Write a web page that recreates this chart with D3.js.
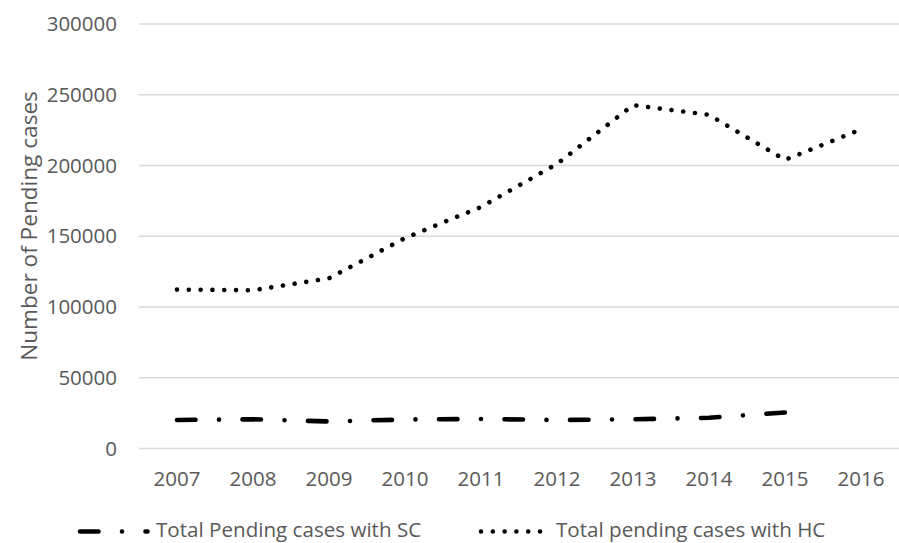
<!DOCTYPE html>
<html>
<head>
<meta charset="utf-8">
<script src="https://cdn.jsdelivr.net/npm/d3@7"></script>
<style>
  html, body { margin: 0; padding: 0; background: #fff; }
  svg { display: block; }
  text { font-family: "Open Sans", sans-serif; fill: #595959; }
</style>
</head>
<body>
<svg id="chart" width="899" height="543"></svg>
<script>
// Pending cases by year
const years = ["2007", "2008", "2009", "2010", "2011", "2012", "2013", "2014", "2015", "2016"];
const scPending = [20150, 20640, 19100, 20500, 20860, 20150, 20640, 21700, 25450, null];
const hcPending = [112300, 111850, 120300, 148700, 170700, 201150, 242650, 235800, 204000, 225500];
const yTicks = [0, 50000, 100000, 150000, 200000, 250000, 300000];
const seriesNames = ["Total Pending cases with SC", "Total pending cases with HC"];

const svg = d3.select("#chart");
const plotLeft = 139, plotRight = 899, plotTop = 24, plotBottom = 448.5;

const x = d3.scaleBand().domain(years).range([plotLeft, plotRight]);
const y = d3.scaleLinear().domain([0, 300000]).range([plotBottom, plotTop]);
const cx = d => x(d) + x.bandwidth() / 2;

// horizontal gridlines
svg.append("g")
  .selectAll("line")
  .data(yTicks)
  .join("line")
  .attr("x1", plotLeft).attr("x2", plotRight)
  .attr("y1", d => y(d)).attr("y2", d => y(d))
  .attr("stroke", "#d9d9d9").attr("stroke-width", 1.5);

// y axis labels
const yAxis = svg.append("g").attr("transform", `translate(${plotLeft - 22},0)`)
  .call(d3.axisLeft(y).tickValues(yTicks).tickSize(0).tickPadding(0).tickFormat(d3.format("d")));
yAxis.select(".domain").remove();
yAxis.selectAll("text")
  .style("font-family", "'Open Sans', sans-serif")
  .style("font-size", "20.5px")
  .attr("fill", "#595959");

// x axis labels
const xAxis = svg.append("g").attr("transform", `translate(0,${plotBottom})`)
  .call(d3.axisBottom(x).tickSize(0).tickPadding(23));
xAxis.select(".domain").remove();
xAxis.selectAll("text")
  .style("font-family", "'Open Sans', sans-serif")
  .style("font-size", "20.5px")
  .attr("fill", "#595959");

// y axis title
svg.append("text")
  .attr("transform", "translate(37,226) rotate(-90)")
  .attr("text-anchor", "middle")
  .style("font-size", "22.6px")
  .text("Number of Pending cases");

const line = d3.line()
  .defined(d => d.v != null)
  .x(d => cx(d.year))
  .y(d => y(d.v));

const scDash = "18.5,23.5,0.01,23.5";
const hcDash = "0.01,11.8";

svg.append("path")
  .datum(years.map((yr, i) => ({ year: yr, v: scPending[i] })))
  .attr("d", line)
  .attr("fill", "none").attr("stroke", "#000")
  .attr("stroke-width", 4.6).attr("stroke-linecap", "round")
  .attr("stroke-linejoin", "round")
  .attr("stroke-dasharray", scDash);

svg.append("path")
  .datum(years.map((yr, i) => ({ year: yr, v: hcPending[i] })))
  .attr("d", line)
  .attr("fill", "none").attr("stroke", "#000")
  .attr("stroke-width", 4.6).attr("stroke-linecap", "round")
  .attr("stroke-linejoin", "round")
  .attr("stroke-dasharray", hcDash);

// legend
const legY = 531.5;
const legend = [
  { name: seriesNames[0], x1: 80, x2: 147.5, dash: scDash, tx: 156 },
  { name: seriesNames[1], x1: 481, x2: 541, dash: hcDash, tx: 556 }
];
const lg = svg.append("g").selectAll("g").data(legend).join("g");
lg.append("line")
  .attr("x1", d => d.x1).attr("x2", d => d.x2)
  .attr("y1", legY).attr("y2", legY)
  .attr("stroke", "#000").attr("stroke-width", 4.6)
  .attr("stroke-linecap", "round")
  .attr("stroke-dasharray", d => d.dash);
lg.append("text")
  .attr("x", d => d.tx).attr("y", 536.5)
  .style("font-size", "20.6px")
  .text(d => d.name);
</script>
</body>
</html>
